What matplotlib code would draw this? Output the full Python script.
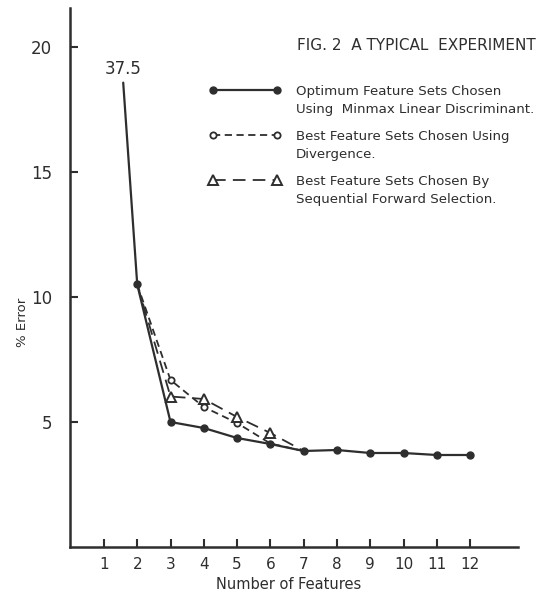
import numpy as np
import matplotlib
matplotlib.use("Agg")
import matplotlib.pyplot as plt
from matplotlib.legend_handler import HandlerLine2D

# values
n_features = [1, 2, 3, 4, 5, 6, 7, 8, 9, 10, 11, 12]
err_minmax = [37.5, 10.5, 5.0, 4.76, 4.36, 4.12, 3.84, 3.88, 3.76, 3.76, 3.68, 3.68]
n_sub = [2, 3, 4, 5, 6, 7]
err_divergence = [10.5, 6.68, 5.6, 4.96, 4.14, 3.84]
err_sfs = [10.5, 6.02, 5.92, 5.2, 4.56, 3.84]

labels = [
    "Optimum Feature Sets Chosen\nUsing  Minmax Linear Discriminant.",
    "Best Feature Sets Chosen Using\nDivergence.",
    "Best Feature Sets Chosen By\nSequential Forward Selection.",
]
title = "FIG. 2  A TYPICAL  EXPERIMENT"

ink = "#2e2e2e"
W, H = 553, 593


class FirstLineHandler(HandlerLine2D):
    # put the sample line next to the first line of a two-line label
    def create_artists(self, legend, orig_handle, xdescent, ydescent,
                       width, height, fontsize, trans):
        shift = 1.65 * fontsize
        arts = super().create_artists(legend, orig_handle, xdescent,
                                      ydescent - shift, width, height,
                                      fontsize, trans)
        for a in arts:
            a.set_markevery(None)
        return arts


fig = plt.figure(figsize=(W / 100, H / 100), dpi=100)
ax = fig.add_axes([70 / W, (H - 547) / H, 448 / W, 539 / H])

l2, = ax.plot(n_sub, err_divergence, color=ink, lw=1.3, ls=(0, (4, 2.5)),
              marker="o", ms=4.5, mfc="white", mec=ink, mew=1.3,
              markevery=[1, 2, 3])
l3, = ax.plot(n_sub, err_sfs, color=ink, lw=1.3, ls=(0, (7, 4)),
              marker="^", ms=7, mfc="white", mec=ink, mew=1.4,
              markevery=[1, 2, 3, 4])
l1, = ax.plot(n_features[1:], err_minmax[1:], color=ink, lw=1.6,
              marker="o", ms=5, mfc=ink, mec=ink, zorder=3)

# off-scale first point of the minmax curve
ax.annotate(f"{err_minmax[0]}", xy=(n_features[1], err_minmax[1]),
            xytext=(1.57, 19.1), ha="center", va="center", fontsize=12,
            color=ink,
            arrowprops=dict(arrowstyle="-", color=ink, lw=1.6,
                            relpos=(0.5, 0.0), shrinkA=1, shrinkB=0))

ax.set_xlim(-0.02, 13.44)
ax.set_ylim(0, 21.56)
ax.set_xticks(n_features)
ax.set_xticklabels([str(v) for v in n_features], fontsize=11, color=ink)
ax.set_yticks([5, 10, 15, 20])
ax.set_yticklabels(["5", "10", "15", "20"], fontsize=12, color=ink)
ax.tick_params(direction="in", length=6, width=1.5, color=ink)
ax.tick_params(axis="x", pad=7)
ax.tick_params(axis="y", pad=13)

for s in ["top", "right"]:
    ax.spines[s].set_visible(False)
for s in ["left", "bottom"]:
    ax.spines[s].set_linewidth(1.8)
    ax.spines[s].set_color(ink)

ax.set_xlabel("Number of Features", fontsize=10.5, color=ink)
ax.xaxis.set_label_coords(0.487, -0.055)
ax.set_ylabel("% Error", fontsize=9.5, color=ink)
ax.yaxis.set_label_coords(-0.092, 0.416)

fig.text(297 / W, 1 - 45 / H, title, fontsize=11, color=ink, va="center")

leg = ax.legend([l1, l2, l3], labels, loc="upper left",
                bbox_to_anchor=(209 / W, 1 - 85 / H),
                bbox_transform=fig.transFigure, frameon=False,
                fontsize=9.6, numpoints=2, handlelength=5.4,
                handletextpad=1.1, labelspacing=1.1, borderpad=0,
                borderaxespad=0,
                handler_map={l1: FirstLineHandler(),
                             l2: FirstLineHandler(),
                             l3: FirstLineHandler()})
for t in leg.get_texts():
    t.set_color(ink)
    t.set_linespacing(1.45)

fig.savefig("out.png", dpi=100)
